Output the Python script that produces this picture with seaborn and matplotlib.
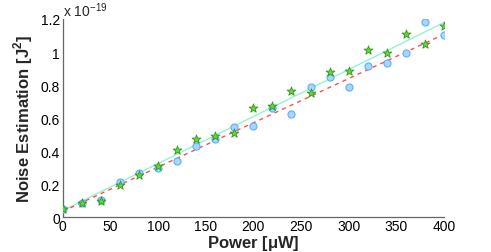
import numpy as np
import pandas as pd
import matplotlib
matplotlib.use("Agg")
import matplotlib.pyplot as plt
import seaborn as sns

# data, in units of 1e-19 J^2
power = [0, 20, 40, 60, 80, 100, 120, 140, 160, 180, 200,
         220, 240, 260, 280, 300, 320, 340, 360, 380, 400]
circles = [0.05, 0.084, 0.104, 0.21, 0.266, 0.30, 0.342, 0.43, 0.47, 0.547, 0.55,
           0.659, 0.623, 0.787, 0.851, 0.785, 0.913, 0.933, 0.995, 1.18, 1.10]
stars = [0.05, 0.088, 0.098, 0.194, 0.254, 0.308, 0.406, 0.474, 0.49, 0.51, 0.66,
         0.675, 0.765, 0.751, 0.879, 0.887, 1.013, 0.991, 1.111, 1.049, 1.159]
fit_x = [0, 400]
fit_solid = [0.04, 1.178]
fit_dashed = [0.035, 1.107]

df = pd.DataFrame({"power": power, "circles": circles, "stars": stars})
fits = pd.DataFrame({"power": fit_x, "solid": fit_solid, "dashed": fit_dashed})

sns.set_style("white")
plt.rcParams['font.family'] = ['Liberation Sans', 'DejaVu Sans']
plt.rcParams['mathtext.fontset'] = 'custom'
plt.rcParams['mathtext.rm'] = 'Liberation Sans'
plt.rcParams['mathtext.bf'] = 'Liberation Sans:bold'

fig = plt.figure(figsize=(4.91, 2.53), dpi=100)
ax = fig.add_axes([0.128, 0.138, 0.776, 0.783])

sns.lineplot(data=fits, x="power", y="solid", ax=ax, color="#8ff5cf", lw=1.0)
sns.lineplot(data=fits, x="power", y="dashed", ax=ax, color="#ff4d4d", lw=1.0,
             linestyle=(0, (3, 3)))
sns.scatterplot(data=df, x="power", y="circles", ax=ax, marker="o", s=26,
                color="#a9d5ff", edgecolor="#5caeff", linewidth=0.8, zorder=3)
sns.scatterplot(data=df, x="power", y="stars", ax=ax, marker="*", s=45,
                color="#6fd13f", edgecolor="#2f9a1a", linewidth=0.6, zorder=4)

ax.set_xlim(0, 400)
ax.set_ylim(0, 1.2)
ax.set_xticks([0, 50, 100, 150, 200, 250, 300, 350, 400])
ax.set_yticks([0, 0.2, 0.4, 0.6, 0.8, 1.0, 1.2])
ax.set_yticklabels(["0", "0.2", "0.4", "0.6", "0.8", "1", "1.2"])
ax.tick_params(direction="in", length=4, width=0.8, colors="#555555",
               labelcolor="black", labelsize=10, pad=2)
ax.tick_params(axis="x", pad=1.5)
for s in ["top", "right"]:
    ax.spines[s].set_visible(False)
for s in ["left", "bottom"]:
    ax.spines[s].set_color("#666666")
    ax.spines[s].set_linewidth(0.9)

ax.set_xlabel(r"Power [$\mathbf{\mu}$W]", fontsize=12, fontweight="bold", labelpad=0)
ax.set_ylabel(r"Noise Estimation [J$^\mathbf{2}$]", fontsize=12, fontweight="bold",
              labelpad=4)
ax.text(0.0, 1.0, r"x 10$^{-19}$", transform=ax.transAxes, fontsize=10,
        ha="left", va="bottom")

fig.savefig("out.png", dpi=100)
